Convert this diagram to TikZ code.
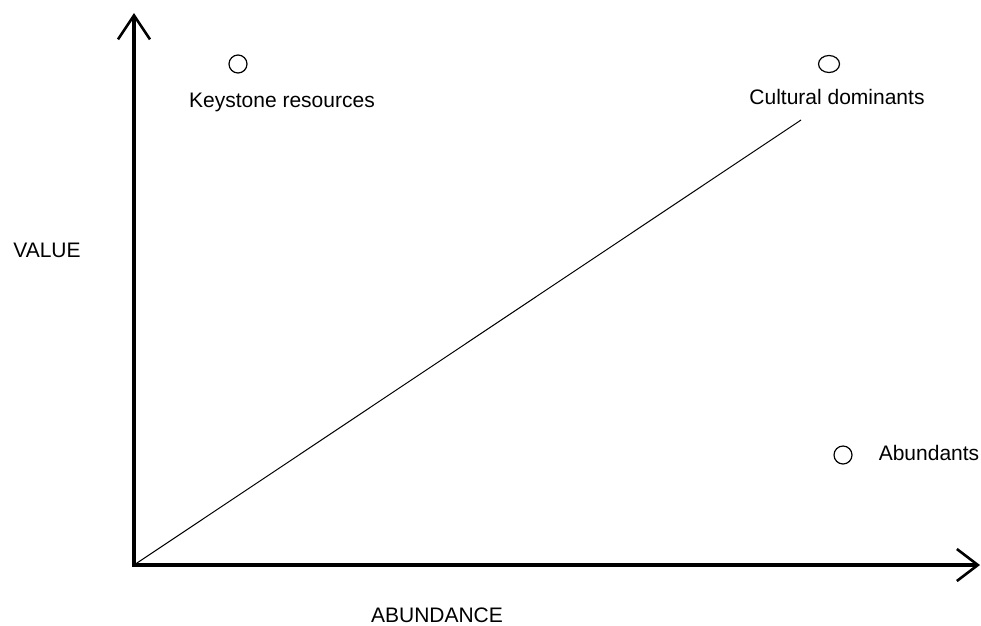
\documentclass[tikz,border=0pt]{standalone}
\usepackage{fontspec}
\setmainfont{Liberation Sans}
\usetikzlibrary{arrows.meta,positioning,shapes.geometric}

\begin{document}
\begin{tikzpicture}[x=1pt,y=-1pt,
    axis/.style={line width=3.6pt,
      {Straight Barb[length=24pt,width=32pt,line width=2.6pt]}-{Straight Barb[length=21pt,width=32pt,line width=2.6pt]}},
    point/.style={circle,draw,line width=1.2pt,minimum size=18pt,inner sep=0pt},
    lbl/.style={font=\fontsize{21}{25}\selectfont,anchor=base,inner sep=0pt}]
  \useasboundingbox (0,0) rectangle (981,625);
  \coordinate (o)     at (134,565);
  \coordinate (ytop)  at (134,13);
  \coordinate (xend)  at (980,565);
  \coordinate (trend) at (801,120);
  % axes and the diagonal
  \draw[axis] (ytop) -- (o) -- (xend);
  \draw[line width=1pt] (o) -- (trend);
  % resource points
  \node[point] (keystone) at (238,64)  {};
  \node[point,ellipse,minimum width=21pt,minimum height=17pt] (cultural) at (829,64) {};
  \node[point] (abundant) at (843,455) {};
  % labels
  \node[lbl] (keystone-lbl) at (282,107) {Keystone resources};
  \node[lbl] (cultural-lbl) at (837,104) {Cultural dominants};
  \node[lbl] (abundant-lbl) at (929,460) {Abundants};
  \node[lbl] (value)        at (47,257)  {VALUE};
  \node[lbl] (abundance)    at (437,622) {ABUNDANCE};
\end{tikzpicture}
\end{document}
